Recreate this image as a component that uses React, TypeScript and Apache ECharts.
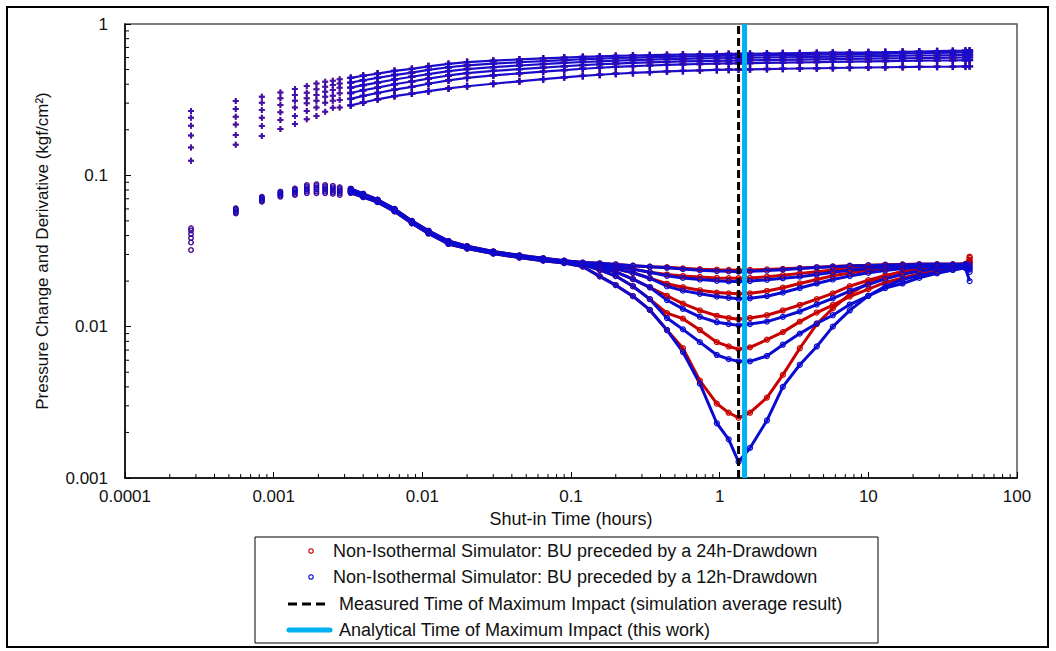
import React, { useEffect, useRef } from "react";
import * as echarts from "echarts";

// ---------- data ----------
// shut-in times, hours: discrete early steps (1 s, 2 s, ...) and the dense later record
const earlyTimes = [0.000278, 0.000556, 0.000833, 0.00111, 0.00139, 0.00167, 0.00194, 0.00222, 0.0025, 0.00278];
const lateTimes = [0.0033, 0.004, 0.005, 0.0065, 0.0085, 0.011, 0.015, 0.02, 0.03, 0.045, 0.065, 0.09, 0.12, 0.156, 0.2, 0.261, 0.339, 0.442, 0.566, 0.736, 0.957, 1.15, 1.34, 1.6, 2.08, 2.66, 3.46, 4.5, 5.77, 7.5, 10, 13, 17, 22, 29, 37, 45, 48];

// pressure change (kgf/cm2), six cases, early times
const pressureEarly1 = [0.266, 0.31, 0.331, 0.353, 0.372, 0.389, 0.405, 0.415, 0.422, 0.431];
const pressureEarly2 = [0.24, 0.274, 0.302, 0.323, 0.339, 0.351, 0.37, 0.385, 0.395, 0.405];
const pressureEarly3 = [0.213, 0.244, 0.27, 0.292, 0.311, 0.323, 0.339, 0.357, 0.366, 0.379];
const pressureEarly4 = [0.183, 0.217, 0.24, 0.261, 0.281, 0.299, 0.311, 0.331, 0.336, 0.348];
const pressureEarly5 = [0.153, 0.185, 0.212, 0.232, 0.247, 0.266, 0.281, 0.302, 0.311, 0.315];
const pressureEarly6 = [0.125, 0.159, 0.182, 0.202, 0.218, 0.235, 0.247, 0.263, 0.28, 0.281];

// pressure change, six cases, later times
const pressureLate1 = [0.44, 0.455, 0.47, 0.49, 0.505, 0.525, 0.545, 0.56, 0.572, 0.583, 0.592, 0.6, 0.606, 0.611, 0.615, 0.619, 0.622, 0.625, 0.628, 0.63, 0.632, 0.634, 0.635, 0.636, 0.638, 0.64, 0.642, 0.644, 0.646, 0.648, 0.65, 0.652, 0.655, 0.658, 0.661, 0.664, 0.666, 0.668];
const pressureLate2 = [0.41, 0.425, 0.44, 0.46, 0.477, 0.497, 0.518, 0.533, 0.547, 0.559, 0.569, 0.578, 0.585, 0.591, 0.596, 0.6, 0.604, 0.607, 0.61, 0.613, 0.615, 0.617, 0.618, 0.62, 0.622, 0.624, 0.626, 0.628, 0.63, 0.632, 0.634, 0.636, 0.639, 0.641, 0.644, 0.646, 0.648, 0.65];
const pressureLate3 = [0.38, 0.395, 0.41, 0.43, 0.448, 0.467, 0.488, 0.504, 0.519, 0.532, 0.543, 0.553, 0.561, 0.567, 0.573, 0.578, 0.582, 0.586, 0.589, 0.592, 0.594, 0.596, 0.597, 0.599, 0.601, 0.603, 0.605, 0.607, 0.609, 0.611, 0.613, 0.615, 0.617, 0.619, 0.621, 0.623, 0.625, 0.626];
const pressureLate4 = [0.35, 0.365, 0.38, 0.4, 0.417, 0.436, 0.457, 0.473, 0.49, 0.503, 0.515, 0.526, 0.535, 0.542, 0.548, 0.553, 0.558, 0.562, 0.566, 0.569, 0.571, 0.573, 0.574, 0.576, 0.578, 0.58, 0.582, 0.584, 0.586, 0.588, 0.59, 0.592, 0.594, 0.596, 0.598, 0.6, 0.601, 0.602];
const pressureLate5 = [0.32, 0.335, 0.35, 0.368, 0.384, 0.403, 0.424, 0.44, 0.457, 0.472, 0.485, 0.496, 0.506, 0.514, 0.521, 0.527, 0.532, 0.537, 0.541, 0.544, 0.547, 0.549, 0.55, 0.552, 0.554, 0.556, 0.558, 0.56, 0.562, 0.564, 0.566, 0.568, 0.57, 0.572, 0.574, 0.575, 0.576, 0.577];
const pressureLate6 = [0.29, 0.303, 0.318, 0.334, 0.347, 0.36, 0.375, 0.388, 0.403, 0.418, 0.432, 0.444, 0.454, 0.462, 0.469, 0.475, 0.481, 0.486, 0.49, 0.494, 0.497, 0.499, 0.5, 0.502, 0.504, 0.506, 0.508, 0.51, 0.512, 0.514, 0.516, 0.518, 0.52, 0.521, 0.522, 0.523, 0.524, 0.525];

// derivative, six cases, early times (both drawdowns coincide)
const derivEarly1 = [0.0447, 0.0606, 0.0722, 0.0781, 0.082, 0.0865, 0.0875, 0.0865, 0.0853, 0.0836];
const derivEarly2 = [0.0432, 0.0598, 0.0712, 0.077, 0.0804, 0.0845, 0.0852, 0.0844, 0.0834, 0.0817];
const derivEarly3 = [0.041, 0.059, 0.0702, 0.0758, 0.0788, 0.0823, 0.0829, 0.0823, 0.0814, 0.0798];
const derivEarly4 = [0.0385, 0.058, 0.0692, 0.0745, 0.0772, 0.0802, 0.0806, 0.0802, 0.0794, 0.0779];
const derivEarly5 = [0.036, 0.057, 0.068, 0.0733, 0.0756, 0.0781, 0.0783, 0.0781, 0.0774, 0.076];
const derivEarly6 = [0.0321, 0.056, 0.0669, 0.0722, 0.074, 0.076, 0.076, 0.076, 0.0754, 0.074];

// derivative, later times up to 0.339 h (both drawdowns coincide)
const derivCommon1 = [0.0815, 0.0755, 0.069, 0.06, 0.05, 0.043, 0.0368, 0.034, 0.0314, 0.0296, 0.0283, 0.0273, 0.0265, 0.0262, 0.0258, 0.0253, 0.0249];
const derivCommon2 = [0.0805, 0.0748, 0.0685, 0.0595, 0.0496, 0.0426, 0.0364, 0.0338, 0.0312, 0.0294, 0.0281, 0.0272, 0.0264, 0.0257, 0.025, 0.024, 0.0229];
const derivCommon3 = [0.0795, 0.074, 0.068, 0.059, 0.0492, 0.0422, 0.0361, 0.0336, 0.031, 0.0292, 0.0279, 0.027, 0.0262, 0.0252, 0.0241, 0.0227, 0.0209];
const derivCommon4 = [0.0785, 0.0733, 0.0675, 0.0586, 0.0488, 0.0419, 0.0358, 0.0333, 0.0308, 0.029, 0.0277, 0.0268, 0.026, 0.0245, 0.023, 0.0206, 0.0182];
const derivCommon5 = [0.0775, 0.0726, 0.067, 0.0582, 0.0485, 0.0416, 0.0355, 0.0331, 0.0306, 0.0288, 0.0275, 0.0266, 0.0258, 0.0237, 0.0216, 0.0185, 0.0152];
const derivCommon6 = [0.0765, 0.0718, 0.0665, 0.0578, 0.0482, 0.0413, 0.0352, 0.0328, 0.0304, 0.0286, 0.0273, 0.0263, 0.025, 0.0215, 0.0188, 0.0159, 0.0129];

// derivative from 0.442 h on, BU preceded by a 24h drawdown
const deriv24Tail1 = [0.0247, 0.0243, 0.024, 0.0238, 0.0237, 0.0236, 0.0237, 0.0239, 0.0241, 0.0244, 0.0247, 0.025, 0.0253, 0.0255, 0.0257, 0.0258, 0.0259, 0.0259, 0.0259, 0.026, 0.0263];
const deriv24Tail2 = [0.0221, 0.0216, 0.0213, 0.021, 0.0209, 0.0209, 0.021, 0.0214, 0.0219, 0.0225, 0.0231, 0.0237, 0.0243, 0.0248, 0.0251, 0.0253, 0.0255, 0.0256, 0.0256, 0.0257, 0.0266];
const deriv24Tail3 = [0.0192, 0.0182, 0.0174, 0.0168, 0.0166, 0.0165, 0.0166, 0.0172, 0.0181, 0.0193, 0.0205, 0.0217, 0.0226, 0.0236, 0.0242, 0.0247, 0.0251, 0.0253, 0.0254, 0.0255, 0.0271];
const deriv24Tail4 = [0.016, 0.0142, 0.0128, 0.0118, 0.0114, 0.0112, 0.0114, 0.0119, 0.0128, 0.0139, 0.0152, 0.0166, 0.0185, 0.0203, 0.0218, 0.0231, 0.024, 0.0247, 0.025, 0.0252, 0.0276];
const deriv24Tail5 = [0.0123, 0.0113, 0.0095, 0.0079, 0.0074, 0.0071, 0.0073, 0.0082, 0.0092, 0.0108, 0.0124, 0.0139, 0.0158, 0.0177, 0.0196, 0.021, 0.0224, 0.0236, 0.0246, 0.0253, 0.0285];
const deriv24Tail6 = [0.0095, 0.0072, 0.0044, 0.0031, 0.0027, 0.0025, 0.0027, 0.0034, 0.0048, 0.0072, 0.0104, 0.0132, 0.0164, 0.0195, 0.0215, 0.0232, 0.024, 0.0248, 0.0254, 0.0258, 0.029];

// derivative from 0.442 h on, BU preceded by a 12h drawdown
const deriv12Tail1 = [0.0245, 0.024, 0.0236, 0.0233, 0.0232, 0.0231, 0.0232, 0.0235, 0.0238, 0.0242, 0.0246, 0.0249, 0.0252, 0.0254, 0.0256, 0.0257, 0.0258, 0.0258, 0.0258, 0.0259, 0.0258];
const deriv12Tail2 = [0.0217, 0.021, 0.0205, 0.0201, 0.0199, 0.0199, 0.02, 0.0204, 0.0209, 0.0214, 0.0221, 0.0229, 0.0236, 0.0242, 0.0247, 0.025, 0.0252, 0.0254, 0.0255, 0.0256, 0.025];
const deriv12Tail3 = [0.0185, 0.0173, 0.0165, 0.0158, 0.0155, 0.0153, 0.0154, 0.0159, 0.0168, 0.018, 0.0193, 0.0205, 0.0216, 0.0227, 0.0235, 0.0242, 0.0247, 0.025, 0.0252, 0.0253, 0.0244];
const deriv12Tail4 = [0.015, 0.0131, 0.0116, 0.0107, 0.0104, 0.0102, 0.0104, 0.0108, 0.0116, 0.0126, 0.014, 0.0154, 0.0172, 0.019, 0.0207, 0.0222, 0.0233, 0.0241, 0.0246, 0.0249, 0.0238];
const deriv12Tail5 = [0.0114, 0.0096, 0.0079, 0.0065, 0.0061, 0.0059, 0.0059, 0.0064, 0.0076, 0.009, 0.0105, 0.0119, 0.014, 0.016, 0.018, 0.0193, 0.021, 0.0225, 0.0237, 0.0246, 0.023];
const deriv12Tail6 = [0.0095, 0.0068, 0.0042, 0.0023, 0.0018, 0.00128, 0.00158, 0.0024, 0.004, 0.0056, 0.0074, 0.01, 0.0128, 0.016, 0.0185, 0.0205, 0.0218, 0.0228, 0.0238, 0.0244, 0.02];

// times of maximum impact (hours)
const measuredTime = 1.34;
const analyticalTime = 1.47;

// axes
const xTicks = [0.0001, 0.001, 0.01, 0.1, 1, 10, 100];
const xTickLabels = ["0.0001", "0.001", "0.01", "0.1", "1", "10", "100"];
const yTicks = [0.001, 0.01, 0.1, 1];
const yTickLabels = ["0.001", "0.01", "0.1", "1"];
const xMinorTicks = [
  0.0002, 0.0003, 0.0004, 0.0005, 0.0006, 0.0007, 0.0008, 0.0009,
  0.002, 0.003, 0.004, 0.005, 0.006, 0.007, 0.008, 0.009,
  0.02, 0.03, 0.04, 0.05, 0.06, 0.07, 0.08, 0.09,
  0.2, 0.3, 0.4, 0.5, 0.6, 0.7, 0.8, 0.9,
  2, 3, 4, 5, 6, 7, 8, 9,
  20, 30, 40, 50, 60, 70, 80, 90,
];
const yMinorTicks = [
  0.002, 0.003, 0.004, 0.005, 0.006, 0.007, 0.008, 0.009,
  0.02, 0.03, 0.04, 0.05, 0.06, 0.07, 0.08, 0.09,
  0.2, 0.3, 0.4, 0.5, 0.6, 0.7, 0.8, 0.9,
];

const xName = "Shut-in Time (hours)";
const yName = "Pressure Change and Derivative (kgf/cm²)";
const legendLabels = [
  "Non-Isothermal Simulator: BU preceded by a 24h-Drawdown",
  "Non-Isothermal Simulator: BU preceded by a 12h-Drawdown",
  "Measured Time of Maximum Impact (simulation average result)",
  "Analytical Time of Maximum Impact (this work)",
];

// ---------- assembly ----------
const pressureEarly = [pressureEarly1, pressureEarly2, pressureEarly3, pressureEarly4, pressureEarly5, pressureEarly6];
const pressureLate = [pressureLate1, pressureLate2, pressureLate3, pressureLate4, pressureLate5, pressureLate6];
const derivEarly = [derivEarly1, derivEarly2, derivEarly3, derivEarly4, derivEarly5, derivEarly6];
const derivCommon = [derivCommon1, derivCommon2, derivCommon3, derivCommon4, derivCommon5, derivCommon6];
const deriv24Tail = [deriv24Tail1, deriv24Tail2, deriv24Tail3, deriv24Tail4, deriv24Tail5, deriv24Tail6];
const deriv12Tail = [deriv12Tail1, deriv12Tail2, deriv12Tail3, deriv12Tail4, deriv12Tail5, deriv12Tail6];

const RED = "#c80000";
const BLUE = "#0a0ad0";
const CROSS_BLUE = "#1a0ccc";
const CYAN = "#00b0f0";
const FONT = "'Liberation Sans', Arial, Helvetica, sans-serif";
const PLUS = "path://M2,0H4V2H6V4H4V6H2V4H0V2H2Z";

const zip = (xs: number[], ys: number[]) => xs.map((x, i) => [x, ys[i]]);

const labelFor = (ticks: number[], labels: string[]) => (v: number) => {
  const i = ticks.findIndex((t) => Math.abs(Math.log10(t) - Math.log10(v)) < 1e-6);
  return i >= 0 ? labels[i] : "";
};

function buildOption() {
  const series: any[] = [];
  const drawdowns = [
    { name: legendLabels[0], color: RED, cross: RED, tails: deriv24Tail, pLine: false },
    { name: legendLabels[1], color: BLUE, cross: CROSS_BLUE, tails: deriv12Tail, pLine: true },
  ];
  drawdowns.forEach((d) => {
    for (let c = 0; c < 6; c++) {
      series.push({
        type: "scatter",
        name: d.name,
        data: zip(earlyTimes, pressureEarly[c]),
        symbol: PLUS,
        symbolSize: 6,
        itemStyle: { color: d.cross },
        silent: true,
      });
      series.push({
        type: "line",
        name: d.name,
        data: zip(lateTimes, pressureLate[c]),
        symbol: PLUS,
        symbolSize: 7,
        showSymbol: true,
        itemStyle: { color: d.cross },
        lineStyle: { color: d.cross, width: d.pLine ? 2.2 : 0 },
        silent: true,
      });
      series.push({
        type: "scatter",
        name: d.name,
        data: zip(earlyTimes, derivEarly[c]),
        symbol: "circle",
        symbolSize: 4.5,
        itemStyle: { color: "rgba(255,255,255,0)", borderColor: d.color, borderWidth: 1.2 },
        silent: true,
      });
      series.push({
        type: "line",
        name: d.name,
        data: zip(lateTimes, derivCommon[c].concat(d.tails[c])),
        symbol: "circle",
        symbolSize: 5,
        showSymbol: true,
        itemStyle: { color: "rgba(255,255,255,0)", borderColor: d.color, borderWidth: 1.2 },
        lineStyle: { color: d.color, width: 3 },
        silent: true,
      });
    }
  });

  series.push({
    type: "line",
    name: legendLabels[3],
    data: [[analyticalTime, yTicks[0]], [analyticalTime, yTicks[yTicks.length - 1]]],
    symbol: "none",
    lineStyle: { color: CYAN, width: 5 },
    silent: true,
    z: 5,
  });
  series.push({
    type: "line",
    name: legendLabels[2],
    data: [[measuredTime, yTicks[0]], [measuredTime, yTicks[yTicks.length - 1]]],
    symbol: "none",
    lineStyle: { color: "#000", width: 3, type: [8, 4] },
    silent: true,
    z: 5,
  });

  // minor ticks (inside), positioned through the axes' own scales
  series.push({
    type: "custom",
    silent: true,
    clip: false,
    z: 6,
    data: xMinorTicks.map((v) => [v, yTicks[0]]),
    renderItem: (_p: any, api: any) => {
      const pt = api.coord([api.value(0), api.value(1)]);
      return {
        type: "line",
        shape: { x1: pt[0], y1: pt[1], x2: pt[0], y2: pt[1] - 4 },
        style: { stroke: "#000", lineWidth: 1 },
      };
    },
  });
  series.push({
    type: "custom",
    silent: true,
    clip: false,
    z: 6,
    data: yMinorTicks.map((v) => [xTicks[0], v]),
    renderItem: (_p: any, api: any) => {
      const pt = api.coord([api.value(0), api.value(1)]);
      return {
        type: "line",
        shape: { x1: pt[0], y1: pt[1], x2: pt[0] + 4, y2: pt[1] },
        style: { stroke: "#000", lineWidth: 1 },
      };
    },
  });

  const LX = 255, LY = 537, LW = 623, LH = 106;
  const rows = [551, 577, 604, 630];
  const legendGraphic: any[] = [
    { type: "rect", shape: { x: LX, y: LY, width: LW, height: LH }, style: { fill: "#fff", stroke: "#000", lineWidth: 1 }, z: 100 },
    { type: "circle", shape: { cx: 311, cy: rows[0], r: 2.2 }, style: { fill: "#fff", stroke: RED, lineWidth: 1.2 }, z: 101 },
    { type: "circle", shape: { cx: 311, cy: rows[1], r: 2.2 }, style: { fill: "#fff", stroke: BLUE, lineWidth: 1.2 }, z: 101 },
    { type: "line", shape: { x1: 288, y1: rows[2], x2: 330, y2: rows[2] }, style: { stroke: "#000", lineWidth: 3, lineDash: [9, 5] }, z: 101 },
    { type: "line", shape: { x1: 289, y1: rows[3], x2: 330, y2: rows[3] }, style: { stroke: CYAN, lineWidth: 5, lineCap: "round" }, z: 101 },
  ];
  legendLabels.forEach((t, i) => {
    legendGraphic.push({
      type: "text",
      x: i < 2 ? 333 : 339,
      y: rows[i],
      style: { text: t, fontSize: 18, fontFamily: FONT, fill: "#111", verticalAlign: "middle", align: "left" },
      z: 101,
    });
  });

  return {
    animation: false,
    backgroundColor: "#fff",
    textStyle: { fontFamily: FONT },
    grid: {
      left: 125,
      top: 24,
      width: 892,
      height: 454,
      show: true,
      borderColor: "#555",
      borderWidth: 1.5,
      backgroundColor: "transparent",
    },
    xAxis: {
      type: "log",
      logBase: 10,
      min: xTicks[0],
      max: xTicks[xTicks.length - 1],
      name: xName,
      nameLocation: "middle",
      nameGap: 32,
      nameTextStyle: { fontSize: 18, color: "#111", fontFamily: FONT },
      axisLine: { show: true, lineStyle: { color: "#000", width: 1.5 } },
      axisTick: { show: true, inside: true, length: 6, lineStyle: { color: "#000", width: 1 } },
      axisLabel: { fontSize: 17, color: "#111", margin: 10, fontFamily: FONT, formatter: labelFor(xTicks, xTickLabels), showMinLabel: true, showMaxLabel: true },
      splitLine: { show: false },
    },
    yAxis: {
      type: "log",
      logBase: 10,
      min: yTicks[0],
      max: yTicks[yTicks.length - 1],
      name: yName,
      nameLocation: "middle",
      nameGap: 74,
      nameTextStyle: { fontSize: 17, color: "#111", fontFamily: FONT },
      axisLine: { show: true, lineStyle: { color: "#000", width: 1.5 } },
      axisTick: { show: true, inside: true, length: 6, lineStyle: { color: "#000", width: 1 } },
      axisLabel: { fontSize: 17, color: "#111", margin: 17, fontFamily: FONT, formatter: labelFor(yTicks, yTickLabels), showMinLabel: true, showMaxLabel: true },
      splitLine: { show: false },
    },
    graphic: [
      { type: "rect", shape: { x: 7, y: 7, width: 1041, height: 640 }, style: { fill: "none", stroke: "#000", lineWidth: 2 }, z: 99 },
      ...legendGraphic,
    ],
    series,
  };
}

export default function App() {
  const ref = useRef<HTMLDivElement>(null);
  useEffect(() => {
    if (!ref.current) return;
    const chart = echarts.init(ref.current, undefined, { renderer: "svg" });
    chart.setOption(buildOption() as any);
    return () => chart.dispose();
  }, []);
  return <div ref={ref} style={{ position: "fixed", left: 0, top: 0, width: 1056, height: 651 }} />;
}
